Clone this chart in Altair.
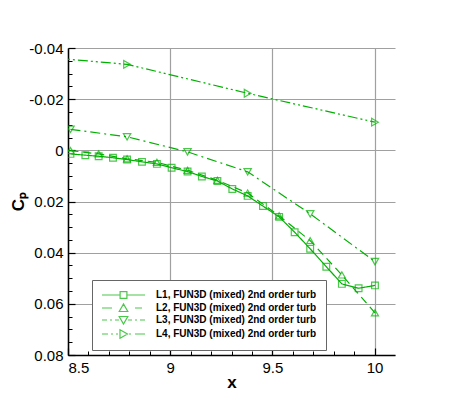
import altair as alt
import pandas as pd

GREEN = "#00b000"
FONT = "Liberation Sans"

series = [
    "L1, FUN3D (mixed) 2nd order turb",
    "L2, FUN3D (mixed) 2nd order turb",
    "L3, FUN3D (mixed) 2nd order turb",
    "L4, FUN3D (mixed) 2nd order turb",
]

x_l1 = [8.512, 8.585, 8.650, 8.720, 8.789, 8.862, 8.935, 9.007, 9.085, 9.155, 9.231,
        9.304, 9.379, 9.454, 9.533, 9.609, 9.685, 9.764, 9.840, 9.922, 10.002]
cp_l1 = [0.0014, 0.0019, 0.0023, 0.0029, 0.0036, 0.0045, 0.0053, 0.0068, 0.0083, 0.0102, 0.0120,
         0.0151, 0.0178, 0.0218, 0.0260, 0.0320, 0.0385, 0.0455, 0.0522, 0.0539, 0.0528]

x_l2 = [8.512, 8.650, 8.789, 8.935, 9.085, 9.231, 9.379, 9.533, 9.685, 9.840, 10.002]
cp_l2 = [0.0001, 0.0014, 0.0033, 0.0047, 0.0078, 0.0117, 0.0167, 0.0256, 0.0353, 0.0487, 0.0635]

x_l3 = [8.512, 8.789, 9.085, 9.379, 9.685, 10.002]
cp_l3 = [-0.0082, -0.0053, 0.0006, 0.0084, 0.0248, 0.0435]

x_l4 = [8.212, 8.789, 9.379, 10.002]
cp_l4 = [-0.0376, -0.0336, -0.0223, -0.0110]

x_major = [8.5, 9.0, 9.5, 10.0]
x_minor = [8.6, 8.7, 8.8, 8.9, 9.1, 9.2, 9.3, 9.4, 9.6, 9.7, 9.8, 9.9]
y_major = [-0.04, -0.02, 0.0, 0.02, 0.04, 0.06, 0.08]
y_minor = [-0.035, -0.03, -0.025, -0.015, -0.01, -0.005, 0.005, 0.01, 0.015,
           0.025, 0.03, 0.035, 0.045, 0.05, 0.055, 0.065, 0.07, 0.075]

dashes = [[1, 0], [8, 5], [10, 4, 2, 4], [10, 3, 2, 3, 2, 3]]
shapes = ["square", "triangle-up", "triangle-down", "triangle-right"]
sizes = [45, 60, 60, 60]
legend_paths = [
    "M-1,0H2.62M3.98,0H7.6M2.62,-0.68H3.98V0.68H2.62Z",
    "M-1,0H1M5.6,0H7M2.44,0.7L3.3,-0.8L4.16,0.7Z",
    "M-1,0H0M0.6,0H1M1.6,0H2.4M4.2,0H5M5.6,0H6M6.6,0H7.6M2.44,-0.7L4.16,-0.7L3.3,0.8Z",
    "M-1,0H0.2M0.8,0H1.2M1.8,0H2.2M4.4,0H4.8M5.6,0H7.6M2.6,-0.86L4.1,0L2.6,0.86Z",
]

frames = []
for name, xs, cps in zip(series, [x_l1, x_l2, x_l3, x_l4], [cp_l1, cp_l2, cp_l3, cp_l4]):
    frames.append(pd.DataFrame({"x": xs, "cp": cps, "series": name}))
df = pd.concat(frames, ignore_index=True)

x_scale = alt.Scale(domain=[8.5, 10.1], nice=False, zero=False)
y_scale = alt.Scale(domain=[-0.04, 0.08], reverse=True, nice=False, zero=False)

main_x = alt.Axis(orient="bottom", values=x_major, grid=True, gridColor="#a0a0a0", gridWidth=1.2,
                  ticks=False, domainColor="black", domainWidth=1.5, labelFont=FONT, labelFontSize=15,
                  labelColor="black", labelPadding=5, labelExpr="toString(datum.value)",
                  title="x", titleFont=FONT, titleFontSize=17, titleFontWeight="bold", titleColor="black",
                  titleBaseline="alphabetic", titleY=32)
main_y = alt.Axis(orient="left", values=y_major, grid=True, gridColor="#a0a0a0", gridWidth=1.2,
                  ticks=False, domainColor="black", domainWidth=1.5, labelFont=FONT, labelFontSize=15,
                  labelColor="black", labelPadding=5,
                  labelExpr="toString(round(datum.value*100)/100)",
                  title="Cₚ", titleFont=FONT, titleFontSize=17, titleFontWeight="bold", titleColor="black",
                  titleAngle=270, titleBaseline="alphabetic", titleAlign="center", titleX=-45, titleY=153)
maj_x = alt.Axis(orient="bottom", values=x_major, labels=False, grid=False, domain=False,
                 tickSize=7, tickColor="black", tickWidth=1.2, offset=-7, title=None)
maj_y = alt.Axis(orient="left", values=y_major, labels=False, grid=False, domain=False,
                 tickSize=7, tickColor="black", tickWidth=1.2, offset=-7, title=None)
min_x = alt.Axis(orient="bottom", values=x_minor, labels=False, grid=False, domain=False,
                 tickSize=4, tickColor="black", tickWidth=1, offset=-4, title=None)
min_y = alt.Axis(orient="left", values=y_minor, labels=False, grid=False, domain=False,
                 tickSize=4, tickColor="black", tickWidth=1, offset=-4, title=None)

base = alt.Chart(df)

lines = base.mark_line(color=GREEN, strokeWidth=1.2, clip=True).encode(
    x=alt.X("x:Q", scale=x_scale, axis=main_x),
    y=alt.Y("cp:Q", scale=y_scale, axis=main_y),
    strokeDash=alt.StrokeDash("series:N", scale=alt.Scale(domain=series, range=dashes), legend=None),
    detail="series:N",
)

points = base.mark_point(color=GREEN, filled=False, strokeWidth=1.2, clip=True).encode(
    x=alt.X("x:Q", scale=x_scale, axis=maj_x),
    y=alt.Y("cp:Q", scale=y_scale, axis=maj_y),
    shape=alt.Shape("series:N", scale=alt.Scale(domain=series, range=shapes), legend=None),
    size=alt.Size("series:N", scale=alt.Scale(domain=series, range=sizes), legend=None),
)

legend_layer = base.transform_filter("false").mark_point(color=GREEN, filled=False, clip=True).encode(
    x=alt.X("x:Q", scale=x_scale, axis=min_x),
    y=alt.Y("cp:Q", scale=y_scale, axis=min_y),
    shape=alt.Shape("series:N", scale=alt.Scale(domain=series, range=legend_paths),
                    legend=alt.Legend(orient="none", legendX=24, legendY=232, title=None,
                                      strokeColor="#666666", fillColor="white", padding=9,
                                      symbolSize=100, symbolStrokeWidth=1.2,
                                      symbolStrokeColor=GREEN, symbolFillColor="transparent",
                                      labelFont=FONT, labelFontSize=10, labelFontWeight="bold",
                                      labelColor="black", labelOffset=43, labelLimit=400,
                                      rowPadding=0)),
)

chart = alt.layer(lines, points, legend_layer).resolve_axis(
    x="independent", y="independent"
).resolve_scale(shape="independent").properties(
    width=327, height=307,
    autosize=alt.AutoSizeParams(type="none"),
    padding={"left": 60, "top": 40, "right": 40, "bottom": 42},
).configure_view(strokeWidth=0)

chart.save("out.html", embed_options={"renderer": "svg", "actions": False})
